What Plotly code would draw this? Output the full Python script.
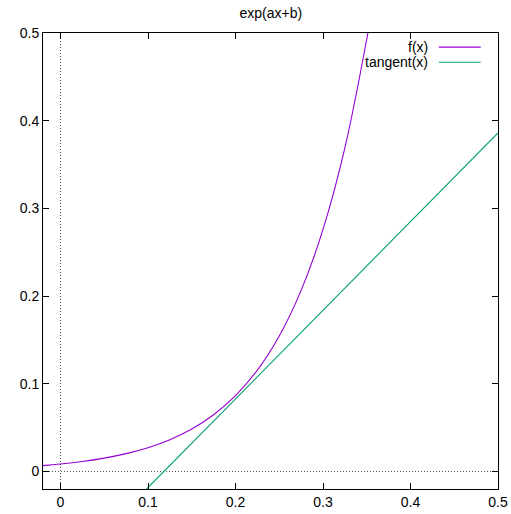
import plotly.graph_objects as go

# Curve f(x) = exp(ax+b)
f_x = [-0.02, 0.0, 0.025, 0.05, 0.075, 0.1, 0.125, 0.15, 0.175, 0.2, 0.225, 0.25, 0.275, 0.3, 0.325, 0.35, 0.355]
f_y = [0.0067, 0.0085, 0.0114, 0.0152, 0.0203, 0.0271, 0.0362, 0.0484, 0.0647, 0.0865, 0.1156, 0.1545, 0.2065, 0.276, 0.369, 0.493, 0.522]

# Tangent line endpoints
t_x = [0.0984, 0.5]
t_y = [-0.02, 0.386]

x_ticks = [0, 0.1, 0.2, 0.3, 0.4, 0.5]
y_ticks = [0, 0.1, 0.2, 0.3, 0.4, 0.5]
x_range = [-0.02, 0.5]
y_range = [-0.02, 0.5]

title = "exp(ax+b)"
names = ["f(x)", "tangent(x)"]
colors = ["#9400d3", "#009e73"]

FONT = "Liberation Sans, Arial, sans-serif"

fig = go.Figure()
fig.add_trace(go.Scatter(x=f_x, y=f_y, mode="lines", name=names[0],
                         line=dict(color=colors[0], width=1.1, shape="spline"),
                         showlegend=False, cliponaxis=True))
fig.add_trace(go.Scatter(x=t_x, y=t_y, mode="lines", name=names[1],
                         line=dict(color=colors[1], width=1.1),
                         showlegend=False))

# dotted zero axes
fig.add_shape(type="line", xref="x", yref="paper", x0=0, x1=0, y0=0, y1=1,
              line=dict(color="#555555", width=1, dash="1px,2px"), layer="below")
fig.add_shape(type="line", xref="paper", yref="y", x0=0, x1=1, y0=0, y1=0,
              line=dict(color="#555555", width=1, dash="1px,2px"), layer="below")

# gnuplot-style legend (text left of sample)
leg_rows = [0.969, 0.936]
for name, col, yy in zip(names, colors, leg_rows):
    fig.add_annotation(text=name, xref="paper", yref="paper", x=0.851, y=yy,
                       xanchor="right", yanchor="middle", showarrow=False,
                       font=dict(family=FONT, size=14, color="black"))
    fig.add_shape(type="line", xref="paper", yref="paper",
                  x0=0.87, x1=0.962, y0=yy, y1=yy,
                  line=dict(color=col, width=1.1))

axis_common = dict(showgrid=False, zeroline=False, showline=True, linecolor="black",
                   linewidth=1, mirror="ticks", ticks="inside", ticklen=6,
                   tickcolor="black", tickwidth=1, automargin=False,
                   tickfont=dict(family=FONT, size=14, color="black"))

fig.update_layout(
    width=511, height=514,
    margin=dict(l=43, r=13, t=33, b=25),
    paper_bgcolor="white", plot_bgcolor="white",
    title=dict(text=title, x=0.53, xanchor="center", y=0.975, yanchor="middle",
               font=dict(family=FONT, size=14, color="black")),
    xaxis=dict(range=x_range, tickvals=x_ticks, ticktext=[str(v) for v in x_ticks], **axis_common),
    yaxis=dict(range=y_range, tickvals=y_ticks, ticktext=[str(v) for v in y_ticks], **axis_common),
)

fig.write_html("out.html", config={"displayModeBar": False},
               post_script="document.body.style.margin='0';document.body.style.overflow='hidden';")
